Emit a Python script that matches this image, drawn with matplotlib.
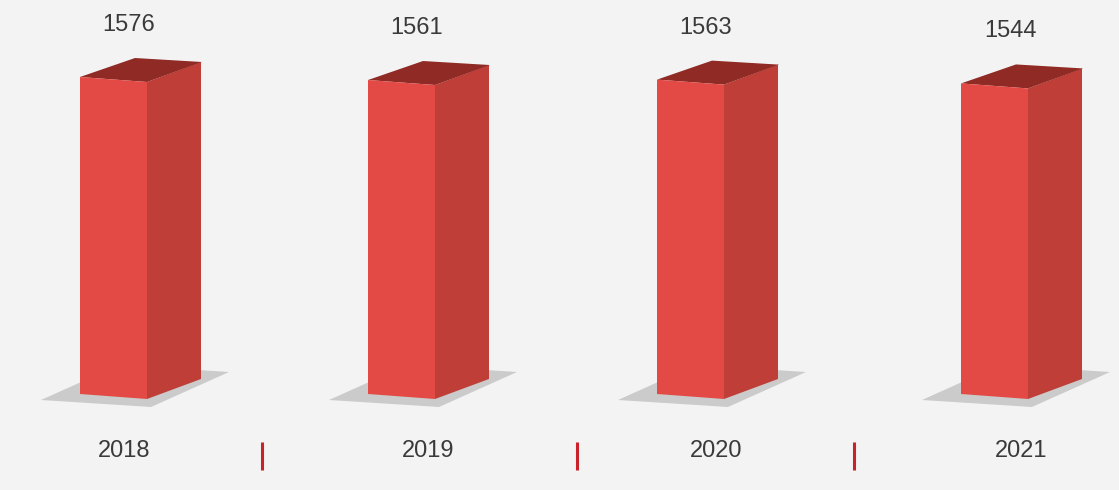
import matplotlib
matplotlib.use("Agg")
import matplotlib.pyplot as plt
from matplotlib.patches import Polygon

years = ["2018", "2019", "2020", "2021"]
values = [1576, 1561, 1563, 1544]

# layout (pixels, measured on the reference)
bar_left = [80, 368, 657, 961]
year_x = [124, 428, 716, 1021]
sep_x = [262, 577, 854]
W, H = 1119, 490
base_px = 394          # front-bottom-left of every bar
front_w = 67
slope = 5              # front face drops this many px across its width
depth = (54, 20)       # side/top offset, right and up
px_per_val = 317 / 1576

front_c = "#e34a45"
side_c = "#bf3e38"
top_c = "#8f2a25"
shadow_c = "#cbcbcb"
text_c = "#3a3a3a"

fig = plt.figure(figsize=(W / 100, H / 100), dpi=100)
fig.patch.set_facecolor("#f3f3f3")
ax = fig.add_axes([0, 0, 1, 1])
ax.set_facecolor("#f3f3f3")
# y in value units, 0 at the bar base
v_per_px = 1 / px_per_val
ax.set_xlim(0, W)
ax.set_ylim(-(H - base_px) * v_per_px, base_px * v_per_px)
ax.axis("off")


def dy(px):
    return px * v_per_px


for x0, v in zip(bar_left, values):
    x1 = x0 + front_w
    dx, up = depth
    # floor shadow
    sh = [(x0 - 39, dy(-6)), (x0 + 71, dy(-13)), (x0 + 149, dy(22)), (x0 + 39, dy(29))]
    ax.add_patch(Polygon(sh, closed=True, fc=shadow_c, ec="none", zorder=1))
    fl = (x0, 0)
    fr = (x1, dy(-slope))
    tl = (x0, v)
    tr = (x1, v - dy(slope))
    # front face
    ax.add_patch(Polygon([fl, fr, tr, tl], closed=True, fc=front_c, ec="none", zorder=3))
    # side face
    side = [fr, (x1 + dx, fr[1] + dy(up)), (x1 + dx, tr[1] + dy(up)), tr]
    ax.add_patch(Polygon(side, closed=True, fc=side_c, ec="none", zorder=2))
    # top face
    top = [tl, tr, (x1 + dx + 1, tr[1] + dy(up)), (x0 + dx + 1, v + dy(up - 1))]
    ax.add_patch(Polygon(top, closed=True, fc=top_c, ec="none", zorder=2))
    ax.text(x0 + 49, v + dy(52), str(v), ha="center", va="center",
            fontsize=17, color=text_c, family="Liberation Sans")

for x, yr in zip(year_x, years):
    ax.text(x, dy(-57), yr, ha="center", va="center",
            fontsize=17, color=text_c, family="Liberation Sans")

for x in sep_x:
    ax.plot([x, x], [dy(-48), dy(-76)], color="#c8232a", lw=2.2,
            solid_capstyle="butt", zorder=4)

fig.savefig("out.png", dpi=100, facecolor=fig.get_facecolor())
